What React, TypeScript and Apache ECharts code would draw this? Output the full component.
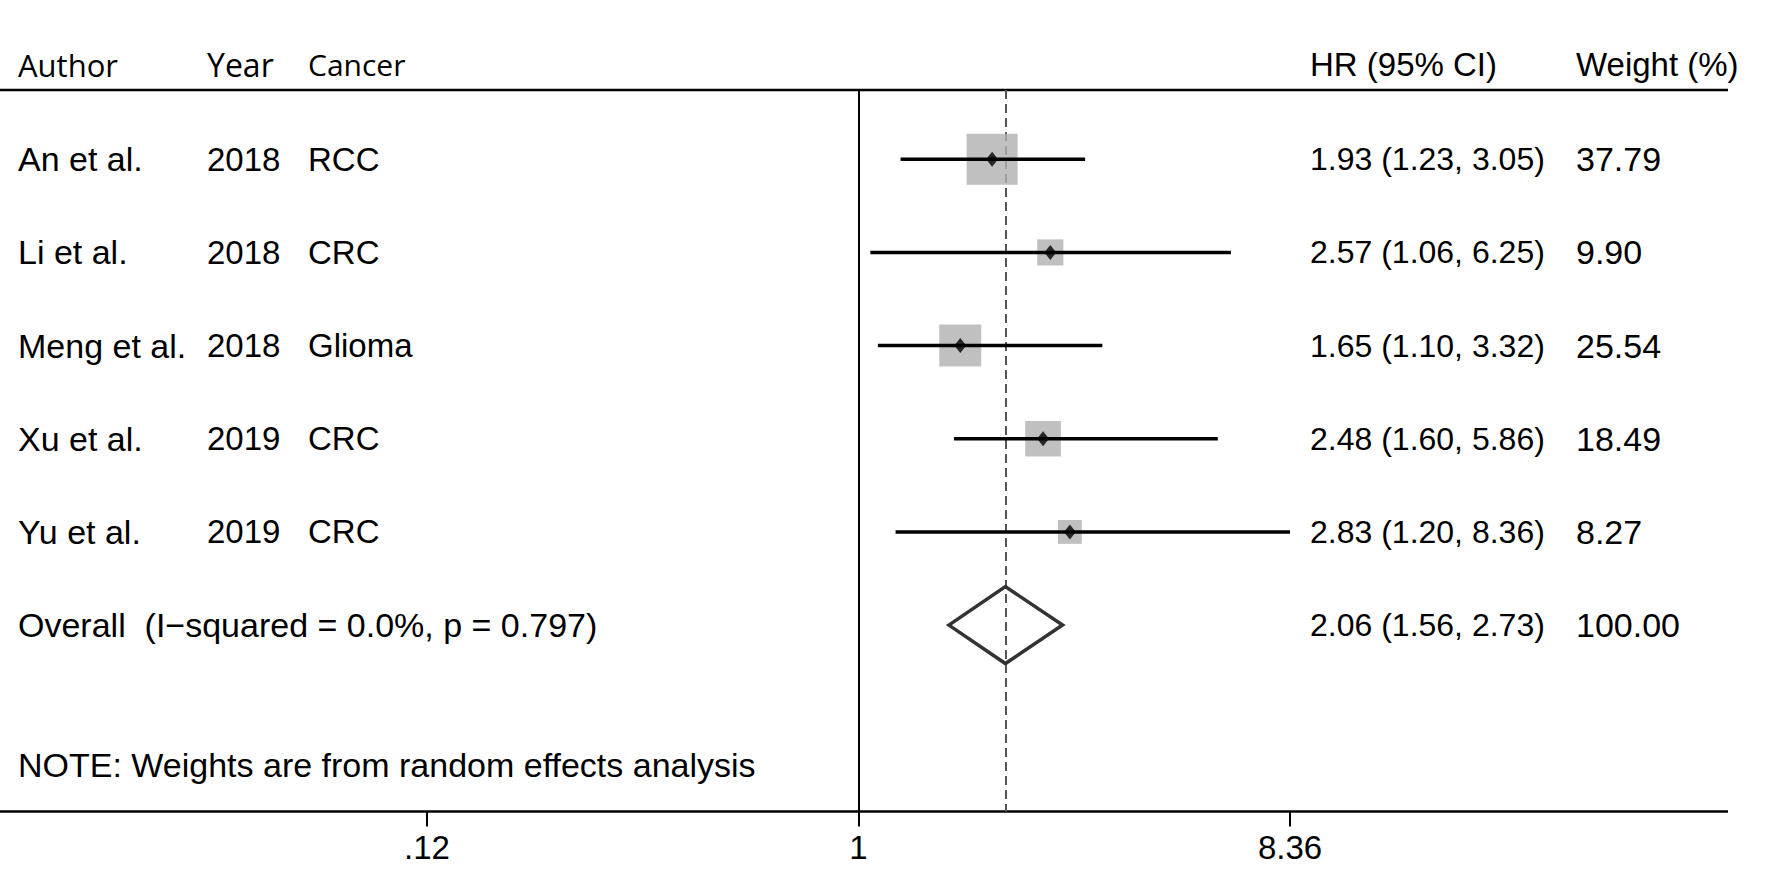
import React, { useEffect, useRef } from "react";
import * as echarts from "echarts";

// ---- data ----
const headers = ["Author", "Year", "Cancer", "HR (95% CI)", "Weight (%)"];
const authors = ["An et al.", "Li et al.", "Meng et al.", "Xu et al.", "Yu et al."];
const years = ["2018", "2018", "2018", "2019", "2019"];
const cancers = ["RCC", "CRC", "Glioma", "CRC", "CRC"];
const hr = [1.93, 2.57, 1.65, 2.48, 2.83];
const lower = [1.23, 1.06, 1.1, 1.6, 1.2];
const upper = [3.05, 6.25, 3.32, 5.86, 8.36];
const weights = [37.79, 9.9, 25.54, 18.49, 8.27];
const overallLabel = "Overall \u00a0(I\u2212squared = 0.0%, p = 0.797)";
const overallHR = 2.06;
const overallLower = 1.56;
const overallUpper = 2.73;
const overallWeight = 100.0;
const noteText = "NOTE: Weights are from random effects analysis";
const axisBase = 8.36; // ticks at 1/8.36 (".12"), 1, 8.36

const FONT = "'Liberation Sans', Arial, sans-serif";
const HEAD_FONT = "'Open Sans', sans-serif";

function fmtTick(v: number) {
  const s = (Math.round(v * 100) / 100).toString();
  return s.startsWith("0.") ? s.slice(1) : s;
}

export default function App() {
  const ref = useRef<HTMLDivElement>(null);
  useEffect(() => {
    const chart = echarts.init(ref.current!, null, { renderer: "svg" });
    const studyRows = authors.map((_, i) => i + 1);
    const overallRow = authors.length + 1;
    const noteRow = overallRow + 1.5;
    const headerRow = 0.257;
    const axisRow = 8;

    chart.setOption({
      animation: false,
      grid: { left: 427, right: 481, top: 66.1, bottom: 80.6 },
      xAxis: {
        type: "log",
        logBase: axisBase,
        min: 1 / axisBase,
        max: axisBase,
        interval: 1,
        position: "bottom",
        axisLine: { show: false, onZero: false },
        axisTick: { show: true, length: 15, lineStyle: { color: "#000", width: 2 } },
        splitLine: { show: false },
        axisLabel: {
          show: true,
          showMinLabel: true,
          showMaxLabel: true,
          margin: 20,
          color: "#000",
          fontSize: 33,
          fontFamily: FONT,
          formatter: (v: number) => fmtTick(v),
        },
      },
      yAxis: { type: "value", inverse: true, min: 0, max: axisRow, show: false },
      series: [
        {
          name: "boxes",
          type: "scatter",
          data: hr.map((h, i) => [h, studyRows[i], weights[i]]),
          symbol: "rect",
          symbolSize: (v: number[]) => 8.3 * Math.sqrt(v[2]),
          itemStyle: { color: "#b0b0b0" },
          z: 2,
          markLine: {
            silent: true,
            z: 1,
            symbol: ["none", "none"],
            label: { show: false },
            lineStyle: { color: "#000", width: 2, type: "solid" },
            data: [[{ coord: [1, headerRow] }, { coord: [1, axisRow] }]],
          },
        },
        {
          name: "ci",
          type: "custom",
          data: lower.map((l, i) => [l, upper[i], studyRows[i]]),
          encode: { x: [0, 1], y: 2 },
          z: 3,
          renderItem: (params: any, api: any) => {
            const a = api.coord([api.value(0), api.value(2)]);
            const b = api.coord([api.value(1), api.value(2)]);
            return {
              type: "line",
              shape: { x1: a[0], y1: a[1], x2: b[0], y2: b[1] },
              style: { stroke: "#000", lineWidth: 3.5 },
            };
          },
        },
        {
          name: "points",
          type: "scatter",
          data: hr.map((h, i) => [h, studyRows[i]]),
          symbol: "diamond",
          symbolSize: [12, 15],
          itemStyle: { color: "#000" },
          z: 4,
        },
        {
          name: "overall",
          type: "custom",
          data: [[overallHR, overallLower, overallUpper, overallRow]],
          encode: { x: [0, 1, 2], y: 3 },
          z: 4,
          renderItem: (params: any, api: any) => {
            const row = api.value(3);
            const c = api.coord([api.value(0), row]);
            const l = api.coord([api.value(1), row]);
            const r = api.coord([api.value(2), row]);
            const t = api.coord([api.value(0), row - 0.413]);
            const b = api.coord([api.value(0), row + 0.413]);
            return {
              type: "polygon",
              shape: { points: [[l[0], c[1]], [c[0], t[1]], [r[0], c[1]], [c[0], b[1]]] },
              style: { fill: "none", stroke: "#333", lineWidth: 3.5, lineJoin: "miter" },
            };
          },
          markLine: {
            silent: true,
            z: 1,
            symbol: ["none", "none"],
            label: { show: false },
            lineStyle: { color: "#555", width: 2, type: [9, 5] },
            data: [[{ coord: [overallHR, headerRow] }, { coord: [overallHR, axisRow] }]],
          },
        },
      ],
    });

    const py = (row: number) => chart.convertToPixel({ gridIndex: 0 }, [1, row])[1];
    const colX = [18, 207, 308, 1310, 1576];
    const txt = (text: string, x: number, y: number, size = 33, family = FONT) => ({
      type: "text",
      silent: true,
      style: { text, x, y, fill: "#000", fontSize: size, fontFamily: family, align: "left", verticalAlign: "middle" },
    });

    const elements: any[] = [];
    elements.push(txt(headers[0], colX[0], 64.5, 31, HEAD_FONT));
    elements.push(txt(headers[1], colX[1], 64.5, 32, HEAD_FONT));
    elements.push(txt(headers[2], colX[2], 64.5, 30, HEAD_FONT));
    elements.push(txt(headers[3], colX[3], 64));
    elements.push(txt(headers[4], colX[4], 64));
    authors.forEach((a, i) => {
      const y = py(studyRows[i]);
      elements.push(txt(a, colX[0], y, 34));
      elements.push(txt(years[i], colX[1], y, 33));
      elements.push(txt(cancers[i], colX[2], y, 33));
      elements.push(txt(`${hr[i].toFixed(2)} (${lower[i].toFixed(2)}, ${upper[i].toFixed(2)})`, colX[3], y, 32));
      elements.push(txt(weights[i].toFixed(2), colX[4], y, 34));
    });
    const oy = py(overallRow);
    elements.push(txt(overallLabel, colX[0], oy, 34));
    elements.push(txt(`${overallHR.toFixed(2)} (${overallLower.toFixed(2)}, ${overallUpper.toFixed(2)})`, colX[3], oy, 32));
    elements.push(txt(overallWeight.toFixed(2), colX[4], oy, 34));
    elements.push(txt(noteText, colX[0], py(noteRow), 34));

    const hy = py(headerRow);
    const ay = py(axisRow);
    elements.push({ type: "line", silent: true, shape: { x1: 0, y1: hy, x2: 1728, y2: hy }, style: { stroke: "#000", lineWidth: 2.5 } });
    elements.push({ type: "line", silent: true, shape: { x1: 0, y1: ay, x2: 1728, y2: ay }, style: { stroke: "#000", lineWidth: 2.5 } });

    chart.setOption({ graphic: elements });
    return () => chart.dispose();
  }, []);
  return <div ref={ref} style={{ position: "fixed", left: 0, top: 0, width: 1771, height: 892, background: "#fff" }} />;
}
